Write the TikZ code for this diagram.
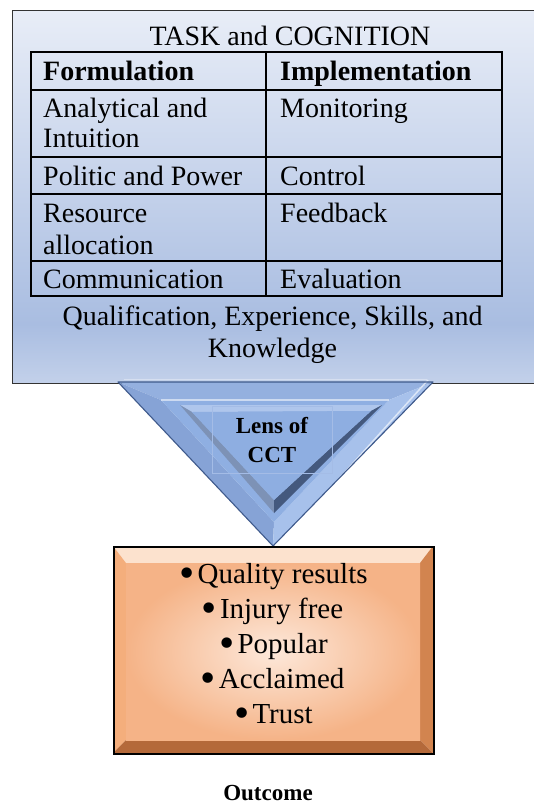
\documentclass[tikz,border=0pt]{standalone}
\usepackage{fontspec}
\usepackage{graphicx}
\setmainfont{Liberation Serif}
\definecolor{btop}{HTML}{E8EDF7}
\definecolor{bdark}{HTML}{A9BDE1}
\definecolor{bbot}{HTML}{C3D1EA}
\definecolor{ringtop}{HTML}{94B0DF}
\definecolor{ringleft}{HTML}{86A3D6}
\definecolor{ringright}{HTML}{A7C1EB}
\definecolor{plateau}{HTML}{8FAFE2}
\definecolor{walltop}{HTML}{AFC6EC}
\definecolor{wallleft}{HTML}{7D92B6}
\definecolor{wallright}{HTML}{44597E}
\definecolor{floorc}{HTML}{8EAEE1}
\definecolor{lensframe}{HTML}{A4BCE6}
\definecolor{triedge}{HTML}{3F5A8C}
\definecolor{ortop}{HTML}{FCE2CE}
\definecolor{orleft}{HTML}{F4AE7C}
\definecolor{orright}{HTML}{D2844F}
\definecolor{orbot}{HTML}{B4693A}
\definecolor{orin}{HTML}{FDE8DA}
\definecolor{orout}{HTML}{F5B387}
\pgfdeclareverticalshading{bigbox}{100bp}{color(0bp)=(bbot); color(25bp)=(bbot); color(33bp)=(bdark); color(75bp)=(btop); color(100bp)=(btop)}
\newcommand{\bigtxt}{\fontsize{28}{30}\selectfont}
\newcommand{\midtxt}{\fontsize{23}{29}\selectfont}
\newcommand{\itm}[1]{\raisebox{-0.16em}{\scalebox{1.5}{\char"2022}}\hspace{3pt}#1}
\begin{document}
\begin{tikzpicture}[x=1pt,y=-1pt,
  cell/.style={anchor=base west,inner sep=0pt,font=\bigtxt},
  hcell/.style={anchor=base west,inner sep=0pt,font=\bigtxt\bfseries},
  ctext/.style={anchor=base,inner sep=0pt,font=\bigtxt},
  btext/.style={anchor=base,inner sep=0pt,font=\midtxt\bfseries},
  itemtext/.style={anchor=base,inner sep=0pt,font=\fontsize{29}{35}\selectfont},
  tableline/.style={draw=black,line width=1.1pt}]
\useasboundingbox (0,0) rectangle (534,806);
\clip (0,0) rectangle (534,806);
\fill[white] (0,0) rectangle (534,806);

% big task box
\node (task) [rectangle,draw=black!80,line width=1.2pt,shading=bigbox,
  minimum width=533pt,minimum height=373pt,anchor=north west,inner sep=0pt] at (12,10) {};
\node (title) [ctext] at (290,45) {TASK and COGNITION};

% table
\draw[tableline] (31,52) rectangle (502,296);
\foreach \yy in {90,157,194,261} \draw[tableline] (31,\yy) -- (502,\yy);
\draw[tableline] (266,52) -- (266,296);
\node (f0) [hcell] at (43,80) {Formulation};
\node (i0) [hcell] at (280,80) {Implementation};
\node (f1) [cell] at (43,117) {Analytical and};
\node (f1b) [cell] at (43,147) {Intuition};
\node (i1) [cell] at (280,117) {Monitoring};
\node (f2) [cell] at (43,185) {Politic and Power};
\node (i2) [cell] at (280,185) {Control};
\node (f3) [cell] at (43,222) {Resource};
\node (f3b) [cell] at (43,254) {allocation};
\node (i3) [cell] at (280,222) {Feedback};
\node (f4) [cell] at (43,288) {Communication};
\node (i4) [cell] at (280,288) {Evaluation};
\node (qual) [ctext] at (272.5,325) {Qualification, Experience, Skills, and};
\node (know) [ctext] at (272.5,357) {Knowledge};

% lens triangle (bevelled)
\coordinate (A) at (118,382);
\coordinate (B) at (433,382);
\coordinate (C) at (273,546);
\coordinate (Ml) at (161,400);
\coordinate (Mr) at (389,400);
\coordinate (Ma) at (274,522);
\coordinate (Rl) at (180,405);
\coordinate (Rr) at (382,405);
\coordinate (Ra) at (274,513);
\coordinate (Fl) at (192,412);
\coordinate (Fr) at (371,411);
\coordinate (Fa) at (274,500);
\fill[ringtop] (A) -- (B) -- (Mr) -- (Ml) -- cycle;
\fill[ringleft] (A) -- (Ml) -- (Ma) -- (C) -- cycle;
\fill[ringright] (B) -- (C) -- (Ma) -- (Mr) -- cycle;
\fill[plateau] (Ml) -- (Mr) -- (Ma) -- cycle;
\fill[walltop] (Rl) -- (Rr) -- (Fr) -- (Fl) -- cycle;
\fill[wallleft] (Rl) -- (Fl) -- (Fa) -- (Ra) -- cycle;
\fill[wallright] (Rr) -- (Ra) -- (Fa) -- (Fr) -- cycle;
\fill[floorc] (Fl) -- (Fr) -- (Fa) -- cycle;
\draw[white,opacity=0.55,line width=1.5pt] (Ml) -- (Mr);
\draw[white,opacity=0.6,line width=1.5pt] ([xshift=-5pt,yshift=2pt]B) -- ([yshift=-6pt]C);
\draw[white,opacity=0.35,line width=1pt] ([xshift=6pt,yshift=3pt]A) -- ([xshift=-6pt,yshift=3pt]B);
\draw[triedge,line width=1.1pt,line join=round] (A) -- (B) -- (C) -- cycle;
\node (lensbox) [draw=lensframe,line width=0.4pt,minimum width=120pt,minimum height=67pt,inner sep=0pt,anchor=north west] at (212,406) {};
\node (lens1) [btext] at (272,433) {Lens of};
\node (lens2) [btext] at (272,462) {CCT};

% outcome box (bevelled)
\coordinate (P1) at (113,546);
\coordinate (P2) at (433,546);
\coordinate (P3) at (433,753);
\coordinate (P4) at (113,753);
\coordinate (Q1) at (126,563);
\coordinate (Q2) at (420,563);
\coordinate (Q3) at (420,740);
\coordinate (Q4) at (126,740);
\fill[ortop] (P1) -- (P2) -- (Q2) -- (Q1) -- cycle;
\fill[orleft] (P1) -- (Q1) -- (Q4) -- (P4) -- cycle;
\fill[orright] (P2) -- (P3) -- (Q3) -- (Q2) -- cycle;
\fill[orbot] (P4) -- (Q4) -- (Q3) -- (P3) -- cycle;
\shade[inner color=orin,outer color=orout] (Q1) rectangle (Q3);
\node (outbox) [draw=black,line width=1.5pt,minimum width=320pt,minimum height=207pt,inner sep=0pt,anchor=north west] at (P1) {};
\node (it1) [itemtext] at (273.5,583) {\itm{Quality results}};
\node (it2) [itemtext] at (272.5,618) {\itm{Injury free}};
\node (it3) [itemtext] at (273.5,653) {\itm{Popular}};
\node (it4) [itemtext] at (272.5,688) {\itm{Acclaimed}};
\node (it5) [itemtext] at (273.5,723) {\itm{Trust}};
\node (outcome) [btext] at (268,800) {Outcome};
\end{tikzpicture}
\end{document}
